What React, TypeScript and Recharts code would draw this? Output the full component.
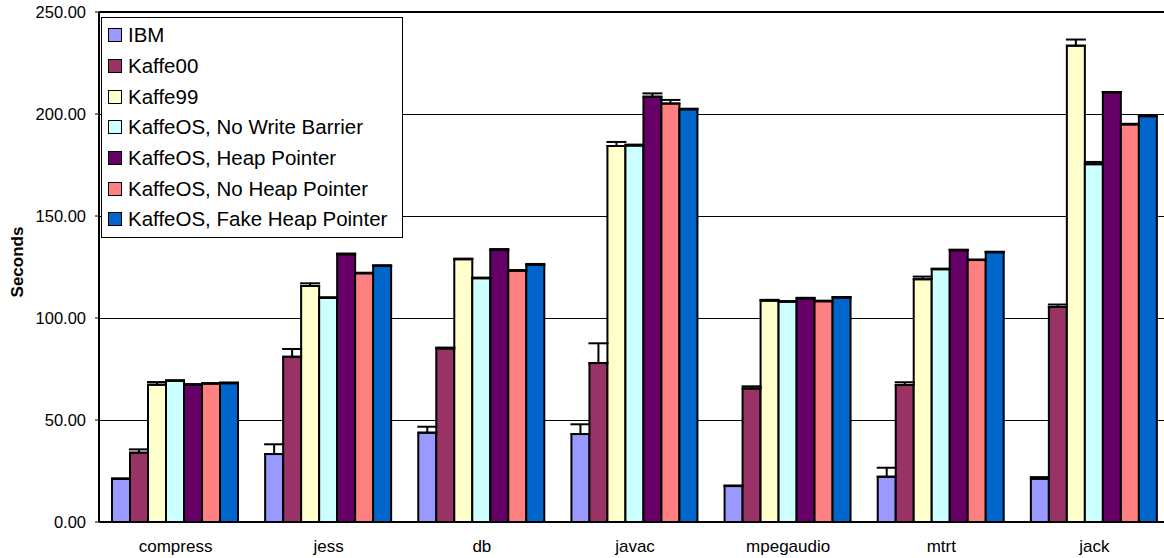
import React from 'react';
import {
  BarChart,
  Bar,
  XAxis,
  YAxis,
  CartesianGrid,
  ErrorBar,
  ReferenceLine,
} from 'recharts';

const categories = ['compress', 'jess', 'db', 'javac', 'mpegaudio', 'mtrt', 'jack'];

const ibm = [21.1, 33.3, 43.8, 43.1, 17.6, 22.2, 21.2];
const ibmErr = [0.3, 4.8, 2.9, 4.8, 0.3, 4.4, 0.8];
const kaffe00 = [34.0, 81.0, 85.1, 77.9, 65.5, 67.2, 105.4];
const kaffe00Err = [1.6, 3.8, 0.4, 9.7, 1.0, 1.3, 1.2];
const kaffe99 = [67.3, 115.7, 128.8, 184.3, 108.5, 119.0, 233.5];
const kaffe99Err = [1.3, 1.3, 0.3, 2.0, 0.4, 1.3, 3.0];
const noWriteBarrier = [69.2, 109.8, 119.5, 184.5, 108.0, 123.9, 175.4];
const noWriteBarrierErr = [0.3, 0.4, 0.3, 0.5, 0.3, 0.3, 1.1];
const heapPointer = [67.3, 131.2, 133.3, 208.5, 109.6, 133.2, 210.6];
const heapPointerErr = [0.3, 0.4, 0.5, 1.6, 0.3, 0.3, 0.2];
const noHeapPointer = [67.8, 121.9, 123.2, 205.1, 108.2, 128.4, 194.9];
const noHeapPointerErr = [0.3, 0.3, 0.3, 1.8, 0.3, 0.3, 0.3];
const fakeHeapPointer = [68.0, 125.5, 126.1, 202.3, 110.0, 132.2, 198.9];
const fakeHeapPointerErr = [0.4, 0.4, 0.4, 0.3, 0.3, 0.3, 0.5];

const yTicks = [0, 50, 100, 150, 200, 250];

const SERIES = [
  { key: 'ibm', label: 'IBM', color: '#9999FF', values: ibm, errs: ibmErr },
  { key: 'kaffe00', label: 'Kaffe00', color: '#993366', values: kaffe00, errs: kaffe00Err },
  { key: 'kaffe99', label: 'Kaffe99', color: '#FFFFCC', values: kaffe99, errs: kaffe99Err },
  { key: 'nwb', label: 'KaffeOS, No Write Barrier', color: '#CCFFFF', values: noWriteBarrier, errs: noWriteBarrierErr },
  { key: 'hp', label: 'KaffeOS, Heap Pointer', color: '#660066', values: heapPointer, errs: heapPointerErr },
  { key: 'nhp', label: 'KaffeOS, No Heap Pointer', color: '#FF8080', values: noHeapPointer, errs: noHeapPointerErr },
  { key: 'fhp', label: 'KaffeOS, Fake Heap Pointer', color: '#0066CC', values: fakeHeapPointer, errs: fakeHeapPointerErr },
];

const data = categories.map((name, i) => {
  const row: Record<string, any> = { name };
  SERIES.forEach((s) => {
    row[s.key] = s.values[i];
    row[s.key + 'Err'] = [0, s.errs[i]];
  });
  return row;
});

const edgeTicks = categories.map((_, i) => i).concat(categories.length);

const FONT = '"Liberation Sans", Arial, sans-serif';

export default function App() {
  return (
    <div
      style={{
        position: 'absolute',
        left: 0,
        top: 0,
        width: 1164,
        height: 558,
        overflow: 'hidden',
        background: '#fff',
        fontFamily: FONT,
      }}
    >
      <BarChart
        width={1180}
        height={558}
        data={data}
        margin={{ top: 12, right: 9, bottom: 0, left: 0 }}
        barCategoryGap={13}
        barGap={0}
      >
        <CartesianGrid vertical={false} stroke="#000" strokeWidth={1} shapeRendering="crispEdges" />
        <XAxis
          xAxisId="edges"
          type="number"
          domain={[0, categories.length]}
          ticks={edgeTicks}
          allowDataOverflow
          height={0}
          axisLine={false}
          tickLine={{ stroke: '#000', strokeWidth: 1 }}
          tickSize={5}
          tickFormatter={() => ''}
        />
        <XAxis
          dataKey="name"
          height={36}
          tickLine={false}
          tickSize={0}
          tickMargin={18}
          axisLine={{ stroke: '#000', strokeWidth: 2 }}
          tick={{ fontSize: 17, fill: '#000', fontFamily: FONT }}
        />
        <YAxis
          width={99}
          domain={[0, 250]}
          ticks={yTicks}
          tickFormatter={(v: number) => v.toFixed(2)}
          tickSize={4}
          tickMargin={9}
          axisLine={{ stroke: '#000', strokeWidth: 2 }}
          tickLine={{ stroke: '#000', strokeWidth: 1 }}
          tick={{ fontSize: 16.5, fill: '#000', fontFamily: FONT }}
          label={(props: any) => {
            const vb = props.viewBox || { x: 0, y: 12, width: 99, height: 510 };
            const cx = 17;
            const cy = vb.y + vb.height / 2 - 5;
            return (
              <text
                x={cx}
                y={cy}
                transform={`rotate(-90 ${cx} ${cy})`}
                textAnchor="middle"
                dominantBaseline="central"
                fontSize={17}
                fontWeight="bold"
                fontFamily={FONT}
                fill="#000"
              >
                Seconds
              </text>
            );
          }}
        />
        <ReferenceLine y={250} stroke="#000" strokeWidth={2} />
        {SERIES.map((s) => (
          <Bar
            key={s.key}
            dataKey={s.key}
            name={s.label}
            fill={s.color}
            stroke="#000"
            strokeWidth={2}
            isAnimationActive={false}
          >
            <ErrorBar
              dataKey={s.key + 'Err'}
              width={10}
              stroke="#000"
              strokeWidth={2}
              direction="y"
              isAnimationActive={false}
            />
          </Bar>
        ))}
      </BarChart>

      {/* legend box overlaid on the plot, top-left */}
      <div
        style={{
          position: 'absolute',
          left: 101,
          top: 17,
          width: 294,
          border: '1.5px solid #000',
          background: '#fff',
          padding: '2px 0 2px 6px',
        }}
      >
        {SERIES.map((s) => (
          <div
            key={s.key}
            style={{ display: 'flex', alignItems: 'center', height: 30.7 }}
          >
            <span
              style={{
                display: 'inline-block',
                width: 12,
                height: 12,
                background: s.color,
                border: '1.5px solid #000',
                marginRight: 6,
              }}
            />
            <span style={{ fontSize: 20.5, color: '#000', whiteSpace: 'nowrap' }}>
              {s.label}
            </span>
          </div>
        ))}
      </div>
    </div>
  );
}
